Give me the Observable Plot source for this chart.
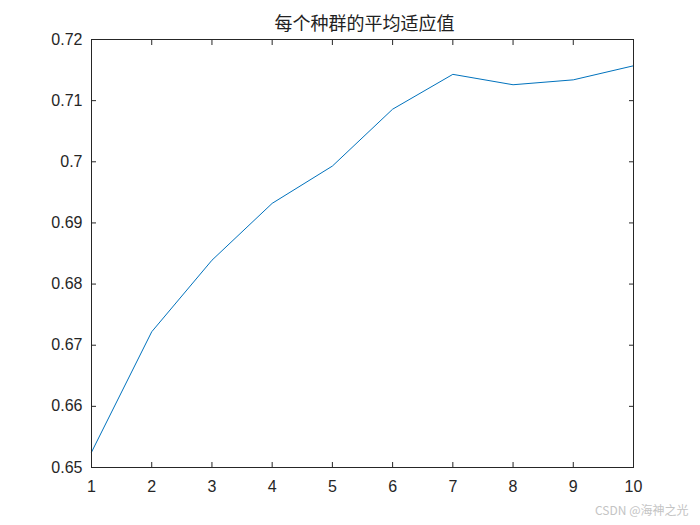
<!DOCTYPE html>
<html>
<head>
<meta charset="utf-8">
<script src="https://cdn.jsdelivr.net/npm/d3@7"></script>
<script src="https://cdn.jsdelivr.net/npm/@observablehq/plot@0.6"></script>
<style>
body { margin: 0; background: #fff; }
#chart { width: 700px; height: 525px; }
</style>
</head>
<body>
<div id="chart"></div>
<script>
const generations = [1, 2, 3, 4, 5, 6, 7, 8, 9, 10];
const meanFitness = [0.6525, 0.6722, 0.6839, 0.6932, 0.6993, 0.7086, 0.7143, 0.7126, 0.7134, 0.7157];
const xTicks = [1, 2, 3, 4, 5, 6, 7, 8, 9, 10];
const yTicks = [0.65, 0.66, 0.67, 0.68, 0.69, 0.70, 0.71, 0.72];
const titleText = "每个种群的平均适应值";
const watermark = "CSDN @海神之光";

const data = generations.map((g, i) => ({g, v: meanFitness[i]}));
const fmtY = d => String(+d.toFixed(2));
const axisColor = "#262626";

const plot = Plot.plot({
  width: 700,
  height: 525,
  marginLeft: 91,
  marginRight: 67,
  marginTop: 39,
  marginBottom: 58,
  style: {fontFamily: "Arial, 'Liberation Sans', sans-serif", fontSize: "16px", color: axisColor, background: "#fff", overflow: "visible"},
  x: {domain: [1, 10], ticks: xTicks},
  y: {domain: [0.65, 0.72], ticks: yTicks},
  marks: [
    Plot.line(data, {x: "g", y: "v", stroke: "#0072BD", strokeWidth: 1}),
    Plot.frame({stroke: axisColor, strokeWidth: 1}),
    Plot.axisX(xTicks, {anchor: "bottom", tickSize: -5, tickPadding: 18, stroke: axisColor, fill: axisColor, fontSize: 16, label: null}),
    Plot.axisX(xTicks, {anchor: "top", tickSize: -5, tickFormat: () => "", stroke: axisColor, label: null}),
    Plot.axisY(yTicks, {anchor: "left", tickSize: -5, tickPadding: 14, tickFormat: fmtY, stroke: axisColor, fill: axisColor, fontSize: 16, label: null}),
    Plot.axisY(yTicks, {anchor: "right", tickSize: -5, tickFormat: () => "", stroke: axisColor, label: null}),
    Plot.text([titleText], {frameAnchor: "top", dx: 2, dy: -15, lineAnchor: "middle", fontSize: 18, fill: "#222", fontFamily: "'Noto Sans CJK SC', sans-serif"}),
    Plot.text([watermark], {frameAnchor: "bottom-right", dx: 55, dy: 44, textAnchor: "end", lineAnchor: "middle", fontSize: 12, fill: "#c4c4c4", fontFamily: "'Noto Sans CJK SC', sans-serif"})
  ]
});
document.getElementById("chart").appendChild(plot);
</script>
</body>
</html>
